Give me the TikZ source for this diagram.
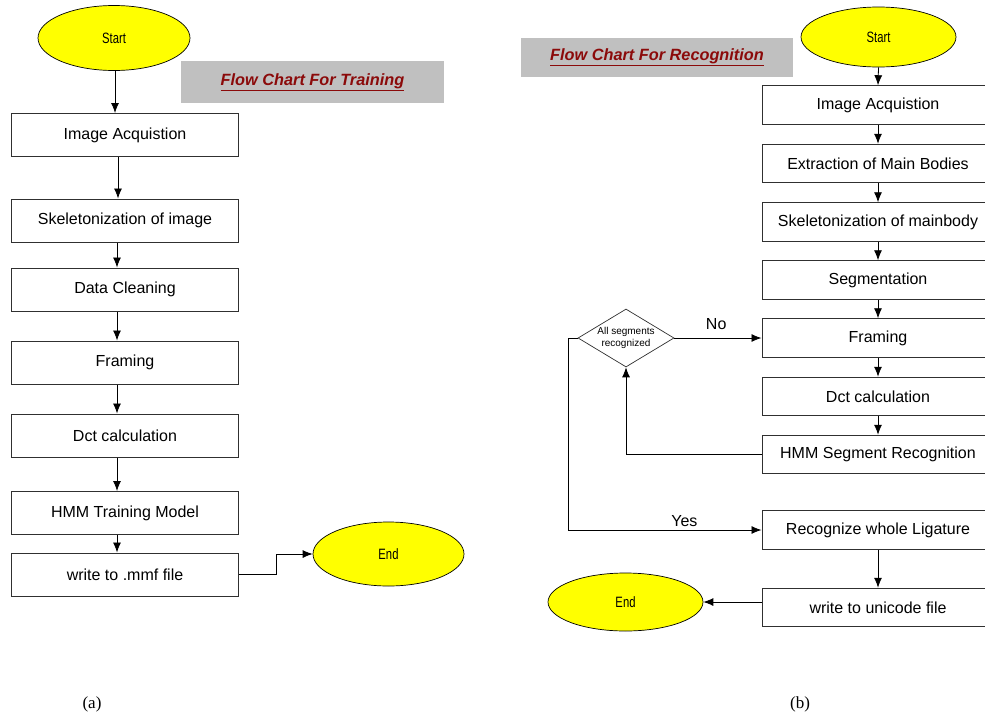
\documentclass[tikz,border=0pt]{standalone}
\usepackage{fontspec}
\usepackage{graphicx}
\setmainfont{Liberation Sans}
\newfontfamily\capfont{Liberation Serif}
\usetikzlibrary{shapes.geometric,arrows.meta}
\definecolor{titlered}{HTML}{8B0A0A}
\definecolor{titlegray}{HTML}{C0C0C0}
\definecolor{boxline}{HTML}{303030}
\definecolor{startyellow}{HTML}{FFFF00}
\newcommand{\ovaltext}[1]{\scalebox{0.75}[1]{#1}}
\tikzset{
  lbox/.style={draw=boxline, line width=1pt, minimum width=227, minimum height=43, inner sep=0pt, font=\fontsize{16}{18}\selectfont},
  rbox/.style={draw=boxline, line width=1pt, minimum width=232, minimum height=38.5, inner sep=0pt, font=\fontsize{16}{18}\selectfont},
  oval/.style={ellipse, draw=black, line width=0.7pt, fill=startyellow, inner sep=0pt, font=\fontsize{15}{17}\selectfont},
  titlebox/.style={fill=titlegray, inner sep=0pt, text=titlered, font=\fontsize{16.3}{19}\selectfont\bfseries\itshape},
  arr/.style={-{Latex[length=10pt,width=8pt]}, line width=0.8pt, black},
  lbl/.style={font=\fontsize{16}{18}\selectfont, inner sep=1pt},
  captext/.style={font=\capfont\fontsize{17}{20}\selectfont}
}
\begin{document}
\begin{tikzpicture}[x=1pt,y=-1pt]
\useasboundingbox (0,0) rectangle (985,715);
\clip (0,0) rectangle (985,715);
\fill[white] (0,0) rectangle (985,715);
% ---------------- (a) Training ----------------
\node[oval, minimum width=152, minimum height=65] (s1) at (114,38) {\ovaltext{Start}};
\node[titlebox, minimum width=263, minimum height=42] (t1) at (312.5,82) {\underline{Flow Chart For Training}};
\node[lbox] (a1) at (125,135) {Image Acquistion};
\node[lbox] (a2) at (125,220.5) {Skeletonization of image};
\node[lbox] (a3) at (125,289.5) {Data Cleaning};
\node[lbox] (a4) at (125,362.5) {Framing};
\node[lbox] (a5) at (125,435.5) {Dct calculation};
\node[lbox] (a6) at (125,513) {HMM Training Model};
\node[lbox] (a7) at (125,574.5) {write to .mmf file};
\node[oval, minimum width=151, minimum height=64] (e1) at (388.5,554) {\ovaltext{End}};
\draw[arr] ([xshift=1]s1.south) -- ([xshift=-10]a1.north);
\draw[arr] ([xshift=-7]a1.south) -- ([xshift=-7]a2.north);
\draw[arr] ([xshift=-8]a2.south) -- ([xshift=-8]a3.north);
\draw[arr] ([xshift=-8]a3.south) -- ([xshift=-8]a4.north);
\draw[arr] ([xshift=-8]a4.south) -- ([xshift=-8]a5.north);
\draw[arr] ([xshift=-8]a5.south) -- ([xshift=-8]a6.north);
\draw[arr] ([xshift=-8]a6.south) -- ([xshift=-8]a7.north);
\draw[arr] (a7.east) -- ([xshift=37]a7.east) |- (e1.west);
\node[captext] (capa) at (92,704) {(a)};
% ---------------- (b) Recognition ----------------
\node[titlebox, minimum width=272, minimum height=39] (t2) at (657,57.5) {\underline{Flow Chart For Recognition}};
\node[oval, minimum width=155, minimum height=60] (s2) at (878.5,37) {\ovaltext{Start}};
\node[rbox] (b1) at (878,105) {Image Acquistion};
\node[rbox] (b2) at (878,163.5) {Extraction of Main Bodies};
\node[rbox] (b3) at (878,222) {Skeletonization of mainbody};
\node[rbox] (b4) at (878,280) {Segmentation};
\node[rbox] (b5) at (878,338) {Framing};
\node[rbox] (b6) at (878,396.5) {Dct calculation};
\node[rbox] (b7) at (878,454.5) {HMM Segment Recognition};
\node[rbox] (b8) at (878,530) {Recognize whole Ligature};
\node[rbox] (b9) at (878,607.5) {write to unicode file};
\node[diamond, draw=boxline, line width=0.7pt, minimum width=96, minimum height=58, inner sep=0pt, font=\fontsize{10}{11.5}\selectfont] (d) at (626,338) {\makebox[0pt]{\begin{tabular}{@{}c@{}}All segments\\recognized\end{tabular}}};
\node[oval, minimum width=155, minimum height=58] (e2) at (625.5,602) {\ovaltext{End}};
\draw[arr] (s2.south) -- (b1.north);
\draw[arr] (b1.south) -- (b2.north);
\draw[arr] (b2.south) -- (b3.north);
\draw[arr] (b3.south) -- (b4.north);
\draw[arr] (b4.south) -- (b5.north);
\draw[arr] (b5.south) -- (b6.north);
\draw[arr] (b6.south) -- (b7.north);
\draw[arr] (b8.south) -- (b9.north);
\draw[arr] (d.east) -- node[lbl, above=7pt, pos=0.48] {No} (b5.west);
\draw[arr] (b7.west) -| (d.south);
\draw[arr] (d.west) -- ++(-9,0) |- node[lbl, pos=0.8, above=2pt] {Yes} (b8.west);
\draw[arr] (b9.west |- e2.east) -- (e2.east);
\node[captext] (capb) at (800,704) {(b)};
\end{tikzpicture}
\end{document}
